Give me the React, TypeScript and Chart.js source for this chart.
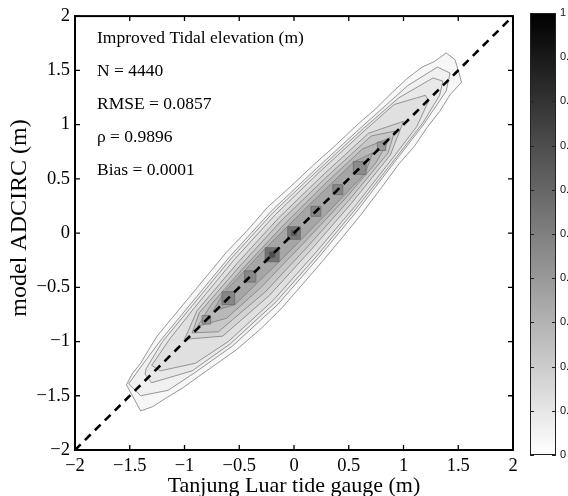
import React, { useEffect, useRef } from "react";
import { Chart, registerables } from "chart.js";

Chart.register(...registerables);

// ---------- data ----------
const axisMin = -2;
const axisMax = 2;
const axisTicks = [-2, -1.5, -1, -0.5, 0, 0.5, 1, 1.5, 2];
const colorbarTicks = [0, 0.1, 0.2, 0.3, 0.4, 0.5, 0.6, 0.7, 0.8, 0.9, 1];

const xAxisTitle = "Tanjung Luar tide gauge (m)";
const yAxisTitle = "model ADCIRC (m)";
const statsLines = [
  "Improved Tidal elevation (m)",
  "N = 4440",
  "RMSE = 0.0857",
  "\u03c1 = 0.9896",
  "Bias = 0.0001",
];

// 1:1 reference line end points (observed, model)
const oneToOneX = [-2, 2];
const oneToOneY = [-2, 2];

// density contours (observed, model) vertices, outermost first
const contour1: [number, number][] = [
  [-1.4, -1.64], [-1.29, -1.6], [-1.175, -1.525], [-1.02, -1.43], [-0.875, -1.325],
  [-0.7, -1.2], [-0.525, -1.075], [-0.3, -0.88], [-0.11, -0.69], [0.08, -0.47],
  [0.26, -0.26], [0.45, -0.03], [0.62, 0.18], [0.8, 0.42], [0.96, 0.64], [1.1, 0.8],
  [1.22, 0.98], [1.33, 1.12], [1.425, 1.275], [1.53, 1.39], [1.5, 1.5], [1.47, 1.6],
  [1.39, 1.66], [1.28, 1.58], [1.17, 1.53], [1.04, 1.43], [0.9, 1.3], [0.74, 1.14],
  [0.59, 1.01], [0.38, 0.81], [0.175, 0.625], [-0.03, 0.43], [-0.24, 0.24],
  [-0.43, 0.02], [-0.62, -0.18], [-0.8, -0.4], [-0.98, -0.62], [-1.12, -0.79],
  [-1.25, -0.95], [-1.33, -1.08], [-1.4, -1.2], [-1.48, -1.3], [-1.53, -1.4],
];
const contour2: [number, number][] = [
  [-1.4, -1.5], [-1.15, -1.45], [-0.91, -1.29], [-0.56, -1.04], [-0.145, -0.655],
  [0.225, -0.225], [0.585, 0.215], [0.93, 0.67], [1.19, 1.01], [1.39, 1.31],
  [1.425, 1.475], [1.31, 1.53], [1.04, 1.36], [0.62, 0.98], [0.205, 0.595],
  [-0.205, 0.205], [-0.585, -0.215], [-0.945, -0.655], [-1.215, -0.985],
  [-1.385, -1.215], [-1.51, -1.39],
];
const contour3: [number, number][] = [
  [-1.36, -1.3], [-1.3, -1.38], [-0.93, -1.27], [-0.58, -1.02], [-0.165, -0.635],
  [0.21, -0.21], [0.57, 0.23], [0.92, 0.68], [1.18, 1.02], [1.33, 1.27],
  [1.36, 1.4], [1.27, 1.43], [0.955, 1.245], [0.635, 0.965], [0.22, 0.58],
  [-0.19, 0.19], [-0.57, -0.23], [-0.93, -0.67], [-1.2, -1.0], [-1.35, -1.25],
];
const contour4: [number, number][] = [
  [-1.3, -1.22], [-1.22, -1.27], [-0.9, -1.2], [-0.6, -1.0], [-0.185, -0.615],
  [0.19, -0.19], [0.555, 0.245], [0.905, 0.695], [1.12, 0.98], [1.23, 1.22],
  [1.2, 1.27], [0.915, 1.185], [0.65, 0.95], [0.235, 0.565], [-0.17, 0.17],
  [-0.55, -0.25], [-0.91, -0.69], [-1.13, -0.97],
];
const contour5: [number, number][] = [
  [-1.0, -0.98], [-0.65, -0.95], [-0.225, -0.575], [0.155, -0.155], [0.525, 0.275],
  [0.88, 0.72], [1.0, 1.03], [0.68, 0.92], [0.265, 0.535], [-0.14, 0.14],
  [-0.52, -0.28], [-0.885, -0.715],
];
const contour6: [number, number][] = [
  [-0.93, -0.92], [-0.69, -0.91], [-0.26, -0.54], [0.125, -0.125], [0.5, 0.3],
  [0.86, 0.74], [0.92, 0.94], [0.705, 0.895], [0.29, 0.51], [-0.115, 0.115],
  [-0.495, -0.305], [-0.865, -0.735],
];
const contour7: [number, number][] = [
  [-0.88, -0.86], [-0.615, -0.785], [-0.3, -0.5], [0.09, -0.09], [0.475, 0.325],
  [0.75, 0.65], [0.88, 0.88], [0.625, 0.775], [0.315, 0.485], [-0.085, 0.085],
  [-0.47, -0.33], [-0.75, -0.65],
];
const contour8: [number, number][] = [
  [-0.74, -0.72], [-0.54, -0.66], [-0.135, -0.265], [0.26, 0.14], [0.65, 0.55],
  [0.72, 0.74], [0.545, 0.655], [0.14, 0.26], [-0.26, -0.14], [-0.645, -0.555],
];
const contours = [contour1, contour2, contour3, contour4, contour5, contour6, contour7, contour8];
// density level (0..1) enclosed by each contour
const contourLevels = [0.03, 0.06, 0.09, 0.12, 0.17, 0.22, 0.28, 0.35];

// densest 0.2 m bins along the diagonal
const cellCenters = [-0.8, -0.6, -0.4, -0.2, 0, 0.2, 0.4, 0.6, 0.8];
const cellLevels = [0.4, 0.47, 0.47, 0.55, 0.53, 0.47, 0.47, 0.45, 0.4];
const coreCenters = [-0.2, 0];
const coreLevels = [0.7, 0.65];

// ---------- styles ----------
const cellRadius = [6, 9, 8, 10, 9, 7, 7, 9, 6];
const coreRadius = [4, 3.5];
const SERIF = "'Liberation Serif', 'Times New Roman', serif";
const SANS = "'Liberation Sans', Arial, sans-serif";

const gray = (v: number) => {
  const g = Math.round(255 * (1 - v));
  return `rgb(${g},${g},${g})`;
};
const fmt = (v: number) => {
  const r = Math.round(v * 10) / 10;
  return r < 0 ? "\u2212" + String(-r) : String(r);
};

const framePlugin = {
  id: "frame",
  afterDraw(chart: any) {
    const { ctx, chartArea: a, scales } = chart;
    const x = scales.x;
    const y = scales.y;
    ctx.save();
    ctx.strokeStyle = "#000";
    ctx.lineWidth = 1.3;
    ctx.beginPath();
    axisTicks.forEach((v) => {
      const px = x.getPixelForValue(v);
      ctx.moveTo(px, a.bottom);
      ctx.lineTo(px, a.bottom - 5);
      ctx.moveTo(px, a.top);
      ctx.lineTo(px, a.top + 5);
      const py = y.getPixelForValue(v);
      ctx.moveTo(a.left, py);
      ctx.lineTo(a.left + 5, py);
      ctx.moveTo(a.right, py);
      ctx.lineTo(a.right - 5, py);
    });
    ctx.stroke();
    ctx.lineWidth = 2;
    ctx.strokeRect(a.left, a.top, a.right - a.left, a.bottom - a.top);

    ctx.fillStyle = "#000";
    ctx.font = `17.5px ${SERIF}`;
    ctx.textAlign = "left";
    ctx.textBaseline = "middle";
    statsLines.forEach((t, i) => {
      ctx.fillText(t, a.left + 22, a.top + 22 + i * 33);
    });

    ctx.font = `22px ${SERIF}`;
    ctx.textAlign = "center";
    ctx.fillText(xAxisTitle, (a.left + a.right) / 2, 486);
    ctx.font = `24px ${SERIF}`;
    ctx.translate(20, 218);
    ctx.rotate(-Math.PI / 2);
    ctx.fillText(yAxisTitle, 0, 0);
    ctx.restore();
  },
};

const colorbarPlugin = {
  id: "cbframe",
  beforeDatasetsDraw(chart: any) {
    const { ctx, chartArea: a, scales } = chart;
    const y = scales.y;
    const y0 = y.getPixelForValue(0);
    const y1 = y.getPixelForValue(1);
    const g = ctx.createLinearGradient(0, y0, 0, y1);
    colorbarTicks.forEach((v) => g.addColorStop(v, gray(v)));
    ctx.save();
    ctx.fillStyle = g;
    ctx.fillRect(a.left, y1, a.right - a.left, y0 - y1);
    ctx.restore();
  },
  afterDraw(chart: any) {
    const { ctx, chartArea: a, scales } = chart;
    const y = scales.y;
    ctx.save();
    ctx.strokeStyle = "#222";
    ctx.lineWidth = 1;
    ctx.beginPath();
    colorbarTicks.forEach((v) => {
      const py = Math.round(y.getPixelForValue(v)) + 0.5;
      ctx.moveTo(a.left, py);
      ctx.lineTo(a.left + 4, py);
      ctx.moveTo(a.right, py);
      ctx.lineTo(a.right - 4, py);
    });
    ctx.stroke();
    ctx.strokeRect(a.left + 0.5, a.top + 0.5, a.right - a.left - 1, a.bottom - a.top - 1);
    ctx.restore();
  },
};

export default function App() {
  const mainRef = useRef<HTMLCanvasElement | null>(null);
  const cbRef = useRef<HTMLCanvasElement | null>(null);

  useEffect(() => {
    const contourSets = contours.map((pts, i) => ({
      type: "line" as const,
      data: [...pts, pts[0]].map(([x, y]) => ({ x, y })),
      showLine: true,
      fill: "shape",
      backgroundColor: gray(contourLevels[i]),
      borderColor: "#7d7d7d",
      borderWidth: 0.8,
      pointRadius: 0,
      tension: 0,
      order: 100 - i,
    }));
    const cells = {
      type: "line" as const,
      data: cellCenters.map((c) => ({ x: c, y: c })),
      showLine: false,
      pointStyle: "rect",
      pointRadius: cellRadius,
      backgroundColor: cellLevels.map(gray),
      borderColor: "#666",
      borderWidth: 0.7,
      order: 3,
    };
    const cores = {
      type: "line" as const,
      data: coreCenters.map((c) => ({ x: c, y: c })),
      showLine: false,
      pointStyle: "rect",
      pointRadius: coreRadius,
      backgroundColor: coreLevels.map(gray),
      borderColor: "#555",
      borderWidth: 0.6,
      order: 2,
    };
    const diag = {
      type: "line" as const,
      data: oneToOneX.map((x, i) => ({ x, y: oneToOneY[i] })),
      borderColor: "#000",
      borderWidth: 2.6,
      borderDash: [8, 6],
      pointRadius: 0,
      fill: false,
      order: 0,
    };

    const main = new Chart(mainRef.current!, {
      type: "line",
      data: { datasets: [...contourSets, cells, cores, diag] as any },
      options: {
        animation: false,
        responsive: false,
        events: [],
        layout: { padding: { top: 14, right: 55, left: 0, bottom: 0 } },
        plugins: { legend: { display: false }, tooltip: { enabled: false } },
        scales: {
          x: {
            type: "linear",
            min: axisMin,
            max: axisMax,
            afterBuildTicks: (s: any) => {
              s.ticks = axisTicks.map((v) => ({ value: v }));
            },
            afterFit: (s: any) => {
              s.height = 46;
            },
            ticks: {
              callback: (v: any) => fmt(Number(v)),
              font: { family: SERIF, size: 18.5 },
              color: "#000",
              padding: 5,
              maxRotation: 0,
              autoSkip: false,
            },
            grid: { display: false, drawTicks: false },
            border: { display: false },
          },
          y: {
            type: "linear",
            min: axisMin,
            max: axisMax,
            afterBuildTicks: (s: any) => {
              s.ticks = axisTicks.map((v) => ({ value: v }));
            },
            afterFit: (s: any) => {
              s.width = 75;
            },
            ticks: {
              callback: (v: any) => fmt(Number(v)),
              font: { family: SERIF, size: 18.5 },
              color: "#000",
              padding: 5,
              autoSkip: false,
            },
            grid: { display: false, drawTicks: false },
            border: { display: false },
          },
        },
      },
      plugins: [framePlugin],
    });

    const cb = new Chart(cbRef.current!, {
      type: "bar",
      data: {
        labels: ["density"],
        datasets: [
          {
            data: [[colorbarTicks[0], colorbarTicks[colorbarTicks.length - 1]]] as any,
            backgroundColor: "rgba(0,0,0,0)",
            borderWidth: 0,
            barPercentage: 1,
            categoryPercentage: 1,
          },
        ],
      },
      options: {
        animation: false,
        responsive: false,
        events: [],
        layout: { padding: { top: 13, bottom: 41, left: 0, right: 0 } },
        plugins: { legend: { display: false }, tooltip: { enabled: false } },
        scales: {
          x: { display: false },
          y: {
            position: "right",
            min: 0,
            max: 1,
            afterBuildTicks: (s: any) => {
              s.ticks = colorbarTicks.map((v) => ({ value: v }));
            },
            afterFit: (s: any) => {
              s.width = 12;
            },
            ticks: {
              callback: (v: any) => fmt(Number(v)),
              font: { family: SANS, size: 11 },
              color: "#111",
              padding: 4,
              autoSkip: false,
            },
            grid: { display: false, drawTicks: false },
            border: { display: false },
          },
        },
      },
      plugins: [colorbarPlugin],
    });

    return () => {
      main.destroy();
      cb.destroy();
    };
  }, []);

  return (
    <div style={{ position: "fixed", left: 0, top: 0, width: 568, height: 496, background: "#fff" }}>
      <canvas ref={mainRef} width={568} height={496} style={{ position: "absolute", left: 0, top: 0 }} />
      <canvas ref={cbRef} width={38} height={496} style={{ position: "absolute", left: 530, top: 0 }} />
    </div>
  );
}
